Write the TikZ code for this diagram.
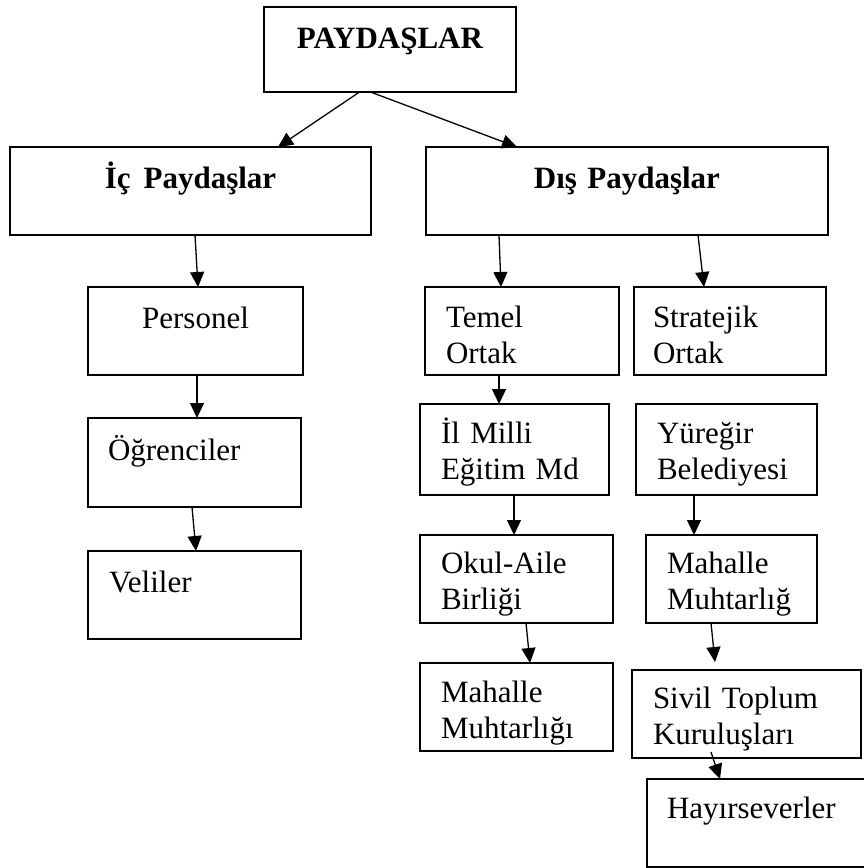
\documentclass[tikz,border=0pt]{standalone}
\usepackage{fontspec}
\setmainfont{Liberation Serif}
\usetikzlibrary{arrows.meta}
\tikzset{
	kutu/.style={draw, line width=1.8pt, outer sep=0pt, inner ysep=0pt, anchor=north west, align=left, font=\fontsize{31}{36}\selectfont},
	baslik/.style={kutu, align=center, inner xsep=5pt, font=\fontsize{31}{37}\selectfont\bfseries},
	ok/.style={line width=1.3pt, -{Triangle[length=15pt,width=14pt]}},
}
\begin{document}
\begin{tikzpicture}[x=1pt,y=-1pt]
			\useasboundingbox (0,0) rectangle (864,868);
			% ust seviye
			\node	(paydaslar) at (264,7) [baslik, text width=242, text height=41, text depth=44] {PAYDAŞLAR};
			\node	(ic) at (10,147) [baslik, text width=351, text height=41, text depth=47] {İç\hspace{13pt}Paydaşlar};
			\node	(dis) at (426,147) [baslik, text width=392, text height=41, text depth=47] {Dış Paydaşlar};
			% ic paydaslar
			\node	(personel) at (88,287) [kutu, align=center, inner xsep=5, text width=205, text height=41, text depth=47] {Personel};
			\node	(ogrenciler) at (88,418) [kutu, inner xsep=20, text width=173, text height=42, text depth=47] {Öğrenciler};
			\node	(veliler) at (88,551) [kutu, inner xsep=21, text width=171, text height=41, text depth=47] {Veliler};
			% dis paydaslar
			\node	(temel) at (425,287) [kutu, inner xsep=21, text width=152, text height=40, text depth=48] {Temel\\Ortak};
			\node	(stratejik) at (634,287) [kutu, inner xsep=19, text width=154, text height=40, text depth=48] {Stratejik\\Ortak};
			\node	(ilmilli) at (420,404) [kutu, inner xsep=21, text width=147, text height=39, text depth=52] {İl Milli\\Eğitim Md};
			\node	(yuregir) at (636,404) [kutu, inner xsep=21, text width=139, text height=39, text depth=52] {Yüreğir\\Belediyesi};
			\node	(okulaile) at (420,535) [kutu, inner xsep=21, text width=151, text height=38, text depth=50] {Okul-Aile\\Birliği};
			\node	(mahalle2) at (646,535) [kutu, inner xsep=21, text width=129, text height=38, text depth=50] {Mahalle\\Muhtarlığ};
			\node	(mahalle1) at (420,663) [kutu, inner xsep=21, text width=151, text height=39, text depth=49] {Mahalle\\Muhtarlığı};
			\node	(sivil) at (632,670) [kutu, inner xsep=21, text width=187, text height=38, text depth=50] {Sivil Toplum\\Kuruluşları};
			\node	(hayir) at (647,779) [kutu, inner xsep=20, text width=190, text height=39, text depth=49] {Hayırseverler};
			\draw[ok] ([xshift=-30.5pt]paydaslar.south) -- ([xshift=87.5pt]ic.north);
			\draw[ok] ([xshift=-19.5pt]paydaslar.south) -- ([xshift=-110pt]dis.north);
			\draw[ok] ([xshift=4.5pt]ic.south) -- ([xshift=2.5pt]personel.north);
			\draw[ok] ([xshift=-128pt]dis.south) -- ([xshift=-21pt]temel.north);
			\draw[ok] ([xshift=71pt]dis.south) -- ([xshift=-26pt]stratejik.north);
			\draw[ok] ([xshift=1.5pt]personel.south) -- ([xshift=2.5pt]ogrenciler.north);
			\draw[ok] ([xshift=-2.5pt]ogrenciler.south) -- ([xshift=1.5pt]veliler.north);
			\draw[ok] ([xshift=-23pt]temel.south) -- ([xshift=-15.5pt]ilmilli.north);
			\draw[ok] ([xshift=-0.5pt]ilmilli.south) -- ([xshift=-2.5pt]okulaile.north);
			\draw[ok] ([xshift=9.5pt]okulaile.south) -- ([xshift=13.5pt]mahalle1.north);
			\draw[ok] ([xshift=-32.5pt]yuregir.south) -- ([xshift=-37.5pt]mahalle2.north);
			\draw[ok] ([xshift=-20.5pt]mahalle2.south) -- ([xshift=-31.5pt,yshift=8pt]sivil.north);
			\draw[ok] ([xshift=-35.5pt,yshift=6pt]sivil.south) -- ([xshift=-42pt]hayir.north);
		\end{tikzpicture}
\end{document}
